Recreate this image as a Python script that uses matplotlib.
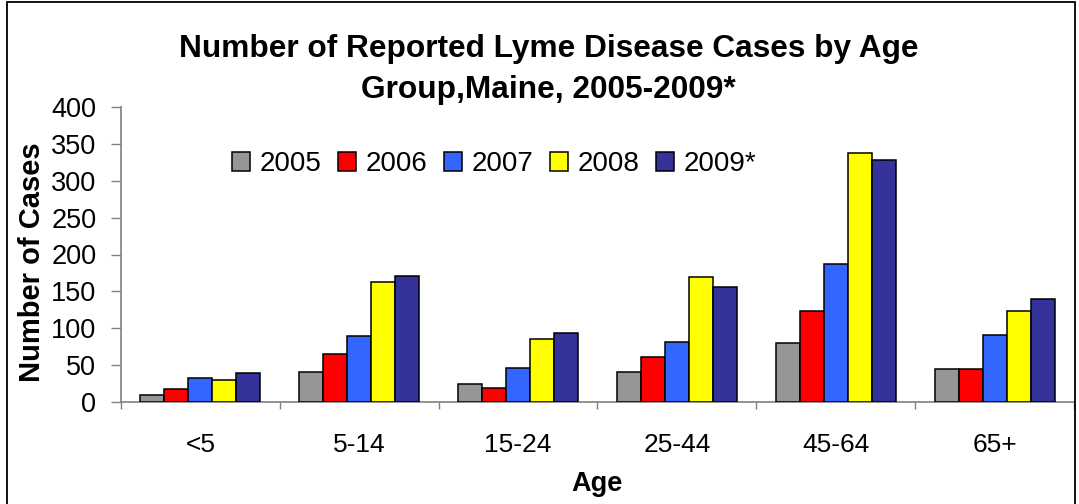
import matplotlib
matplotlib.use("Agg")
import matplotlib.pyplot as plt
import numpy as np
from matplotlib.patches import Rectangle

plt.rcParams['font.family'] = ['Liberation Sans', 'DejaVu Sans']

age_groups = ["<5", "5-14", "15-24", "25-44", "45-64", "65+"]
years = ["2005", "2006", "2007", "2008", "2009*"]
cases_2005 = [9, 41, 24, 41, 80, 45]
cases_2006 = [17, 65, 19, 61, 124, 45]
cases_2007 = [33, 89, 46, 82, 187, 91]
cases_2008 = [30, 163, 85, 169, 337, 124]
cases_2009 = [39, 171, 93, 156, 328, 139]
series = [cases_2005, cases_2006, cases_2007, cases_2008, cases_2009]
colors = ["#969696", "#FF0000", "#3366FF", "#FFFF00", "#333399"]
yticks = [0, 50, 100, 150, 200, 250, 300, 350, 400]

W, H = 1079, 504
fig = plt.figure(figsize=(W / 100, H / 100), dpi=100)
ax = fig.add_axes([121 / W, 1 - 402 / H, (1074 - 121) / W, (402 - 107) / H])

x = np.arange(len(age_groups))
bw = 0.151
for i, (vals, c, yr) in enumerate(zip(series, colors, years)):
    ax.bar(x + (i - 2) * bw, vals, bw, color=c, edgecolor="black",
           linewidth=1.1, label=yr, zorder=3)

ax.set_xlim(-0.5, len(age_groups) - 0.5)
ax.set_ylim(0, 400)
ax.set_yticks(yticks)
ax.tick_params(axis='y', labelsize=19.5, length=7.2, width=1, color="#808080", pad=10.5)
ax.set_xticks(x)
ax.set_xticklabels(age_groups)
ax.tick_params(axis='x', which='major', length=0, labelsize=19, pad=22)
ax.set_xticks(np.arange(-0.5, len(age_groups)), minor=True)
ax.tick_params(axis='x', which='minor', length=5, width=1, color="#808080")

for s in ["top", "right"]:
    ax.spines[s].set_visible(False)
for s in ["left", "bottom"]:
    ax.spines[s].set_color("#808080")
    ax.spines[s].set_linewidth(1.2)

# axis titles
fig.text(597 / W, 1 - 491 / H, "Age", ha="center", va="baseline",
         fontsize=19.5, fontweight="bold")
fig.text(40 / W, 1 - 262.5 / H, "Number of Cases", rotation=90,
         rotation_mode="anchor", ha="center", va="baseline",
         fontsize=21, fontweight="bold")

# chart title (two lines)
fig.text(548.5 / W, 1 - 57 / H, "Number of Reported Lyme Disease Cases by Age",
         ha="center", va="baseline", fontsize=22.8, fontweight="bold")
fig.text(548.5 / W, 1 - 98 / H, "Group,Maine, 2005-2009*",
         ha="center", va="baseline", fontsize=22.8, fontweight="bold")

ax.legend(loc="center left", bbox_to_anchor=((232 - 121) / 953, (402 - 164) / 295),
          ncol=5, frameon=False, fontsize=20, handlelength=0.65,
          handleheight=0.65, handletextpad=0.36, columnspacing=0.58,
          borderpad=0, borderaxespad=0)

fig.add_artist(Rectangle((7 / W, -0.02), (1075 - 7) / W, 1.02 - 2 / H,
                         transform=fig.transFigure, fill=False,
                         edgecolor="black", linewidth=1.3))

fig.savefig("out.png", dpi=100)
